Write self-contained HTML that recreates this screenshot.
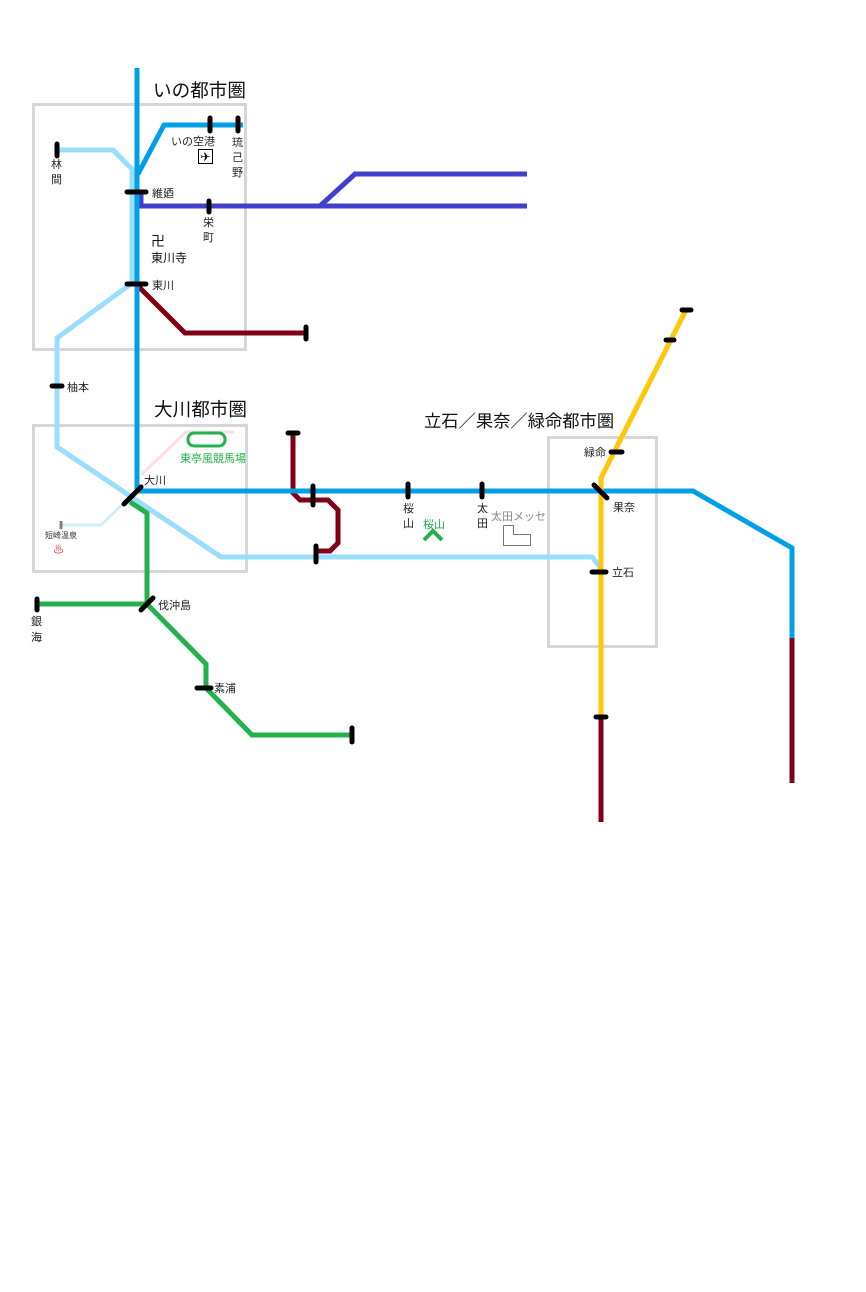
<!DOCTYPE html>
<html><head><meta charset="utf-8"><style>
html,body{margin:0;padding:0;background:#fff;}
svg{display:block;}
text{font-family:"Liberation Sans","Noto Sans CJK JP",sans-serif;}
</style></head><body>
<svg width="866" height="1292" viewBox="0 0 866 1292" xmlns="http://www.w3.org/2000/svg">
<g fill="none" stroke="#d6d6d6" stroke-width="3">
<rect x="33.5" y="104.5" width="212" height="245"/>
<rect x="33.5" y="425.5" width="213" height="146"/>
<rect x="548.5" y="437.5" width="108" height="209"/>
</g>
<g fill="none" stroke-linejoin="miter">
<polyline points="141,475 186,432 234,432" stroke="#ffdde0" stroke-width="3"/>
<polyline points="61,525 101,525 124,503" stroke="#cdeeff" stroke-width="3"/>
<polyline points="57,150 113,150 132,169 132,283 57,338 57,447 221,557 592,557 600,567 600,572" stroke="#99ddff" stroke-width="5"/>
<polyline points="141,192 141,206 527,206" stroke="#4040cc" stroke-width="5"/>
<polyline points="320,206 355,174 527,174" stroke="#4040cc" stroke-width="5"/>
<polyline points="137,285 185,333 306,333" stroke="#800018" stroke-width="5"/>
<polyline points="293,433 293,493 300,500 328,500 338,510 338,543 330,551 316,551" stroke="#800018" stroke-width="5"/>
<line x1="601" y1="717" x2="601" y2="822" stroke="#800018" stroke-width="5"/>
<line x1="792" y1="638" x2="792" y2="783" stroke="#800018" stroke-width="5"/>
<polyline points="137,68 137,491 693,491 792,548 792,638" stroke="#00a0e6" stroke-width="5"/>
<polyline points="138,174 164,125 243,125" stroke="#00a0e6" stroke-width="5"/>
<polyline points="130,502 147,513 147,604 37,604" stroke="#22b14c" stroke-width="5"/>
<polyline points="147,604 206,664 206,688 252,735 352,735" stroke="#22b14c" stroke-width="5"/>
<polyline points="686,310 601,478 601,717" stroke="#ffc60a" stroke-width="5"/>
</g>
<g stroke="#000" stroke-width="5" stroke-linecap="round">
<line x1="57" y1="144" x2="57" y2="156"/>
<line x1="210" y1="118" x2="210" y2="131"/>
<line x1="238" y1="118" x2="238" y2="131"/>
<line x1="127" y1="192" x2="146" y2="192"/>
<line x1="209" y1="201" x2="209" y2="212"/>
<line x1="127" y1="284" x2="146" y2="284"/>
<line x1="306" y1="327" x2="306" y2="339"/>
<line x1="52" y1="386" x2="62" y2="386"/>
<line x1="288" y1="433" x2="298" y2="433"/>
<line x1="124" y1="504" x2="141" y2="487"/>
<line x1="313" y1="486" x2="313" y2="505"/>
<line x1="316" y1="546" x2="316" y2="562"/>
<line x1="408" y1="484" x2="408" y2="497"/>
<line x1="482" y1="484" x2="482" y2="497"/>
<line x1="594" y1="485" x2="607" y2="498"/>
<line x1="611" y1="452" x2="622" y2="452"/>
<line x1="592" y1="572" x2="606" y2="572"/>
<line x1="596" y1="717" x2="606" y2="717"/>
<line x1="666" y1="340" x2="674" y2="340"/>
<line x1="682" y1="310" x2="691" y2="310"/>
<line x1="37" y1="599" x2="37" y2="610"/>
<line x1="141" y1="610" x2="153" y2="598"/>
<line x1="197" y1="688" x2="211" y2="688"/>
<line x1="352" y1="728" x2="352" y2="742"/>
</g>
<line x1="61" y1="521" x2="61" y2="529" stroke="#808080" stroke-width="3"/>
<rect x="198.5" y="149.5" width="14" height="14" fill="#fff" stroke="#000" stroke-width="1"/>
<text x="205.5" y="161" font-size="12" text-anchor="middle" fill="#000">✈</text>
<rect x="188" y="433" width="37" height="13" rx="6" fill="none" stroke="#22b14c" stroke-width="3"/>
<polyline points="424,540 433,531 442,540" fill="none" stroke="#22b14c" stroke-width="4"/>
<polyline points="503.5,525.5 513.5,525.5 513.5,534.5 530.5,534.5 530.5,545.5 503.5,545.5 503.5,525.5" fill="none" stroke="#777" stroke-width="1"/>
<g font-size="18.6" fill="#111">
<text x="153" y="97">いの都市圏</text>
<text x="154" y="416">大川都市圏</text>
</g>
<text x="424" y="427" font-size="17.3" fill="#111">立石／果奈／緑命都市圏</text>
<g font-size="11" fill="#222">
<text x="171" y="145">いの空港</text>
<text x="232" y="146">琉</text><text x="232" y="161">己</text><text x="232" y="176">野</text>
<text x="51" y="168">林</text><text x="51" y="183">間</text>
<text x="152" y="197">維廼</text>
<text x="203" y="226">栄</text><text x="203" y="241">町</text>
<text x="152" y="289">東川</text>
<text x="67" y="391">柚本</text>
<text x="144" y="484">大川</text>
<text x="158" y="609">伐沖島</text>
<text x="31" y="625">銀</text><text x="31" y="641">海</text>
<text x="214" y="692">素浦</text>
<text x="403" y="512">桜</text><text x="403" y="527">山</text>
<text x="477" y="512">太</text><text x="477" y="527">田</text>
<text x="584" y="456">緑命</text>
<text x="613" y="511">果奈</text>
<text x="612" y="576">立石</text>
</g>
<text x="151" y="246" font-size="14" fill="#111">卍</text>
<text x="151" y="262" font-size="12" fill="#111">東川寺</text>
<text x="180" y="462" font-size="11" fill="#22b14c">東亭風競馬場</text>
<text x="423" y="528" font-size="11" fill="#22b14c">桜山</text>
<text x="491" y="520" font-size="11" fill="#888">太田メッセ</text>
<text x="45" y="538" font-size="8" fill="#333">短崎温泉</text>
<text x="53" y="553" font-size="11" fill="#e05050">♨</text>
</svg>
</body></html>
